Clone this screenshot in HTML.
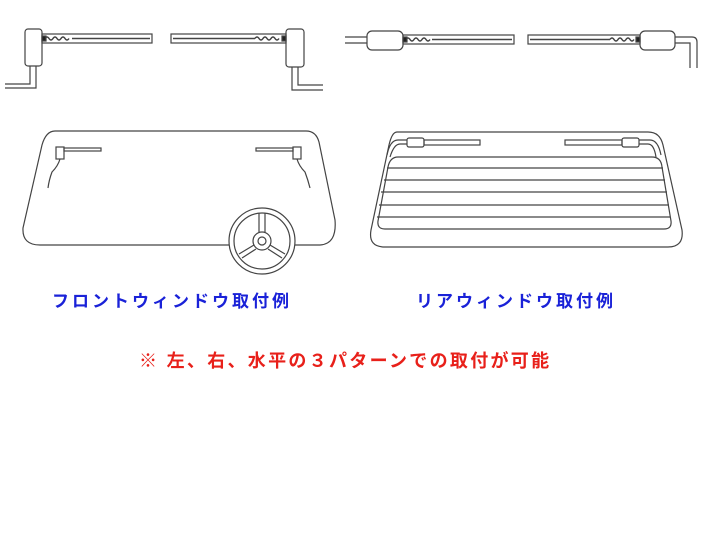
<!DOCTYPE html><html><head><style>body{margin:0;background:#fff;width:720px;height:540px;overflow:hidden}svg{position:absolute;left:0;top:0}.t{font-family:"Liberation Sans","Noto Sans CJK JP",sans-serif;font-weight:bold;white-space:nowrap}</style></head><body>
<svg width="720" height="540" viewBox="0 0 720 540" fill="none" stroke="#444" stroke-width="1.2">
<rect x="25" y="29" width="17" height="37" rx="3"/>
<rect x="42" y="34" width="110" height="9"/><line x1="72" y1="38.5" x2="150" y2="38.5" stroke-width="1.5"/>
<path d="M45 38.5 q2-3 4 0 t4 0 t4 0 t4 0 t4 0 t4 0" stroke-width="1.5"/>
<rect x="42" y="36" width="4" height="5" fill="#222"/>
<path d="M30 66 V84 H5 M36 66 V88 H5"/>
<rect x="171" y="34" width="115" height="9"/><line x1="173" y1="38.5" x2="255" y2="38.5" stroke-width="1.5"/>
<path d="M255 38.5 q2-3 4 0 t4 0 t4 0 t4 0 t4 0 t4 0" stroke-width="1.5"/>
<rect x="282" y="36" width="4" height="5" fill="#222"/>
<rect x="286" y="29" width="18" height="38" rx="3"/>
<path d="M292 67 V90 H323 M298 67 V85 H323"/>
<rect x="367" y="31" width="36" height="19" rx="5"/>
<path d="M345 37 H367 M345 43 H367"/>
<rect x="403" y="35" width="111" height="9"/><line x1="432" y1="39.5" x2="512" y2="39.5" stroke-width="1.5"/>
<path d="M406 39.5 q2-3 4 0 t4 0 t4 0 t4 0 t4 0 t4 0" stroke-width="1.5"/>
<rect x="403" y="37" width="4" height="5" fill="#222"/>
<rect x="528" y="35" width="112" height="9"/><line x1="530" y1="39.5" x2="610" y2="39.5" stroke-width="1.5"/>
<path d="M610 39.5 q2-3 4 0 t4 0 t4 0 t4 0 t4 0 t4 0" stroke-width="1.5"/>
<rect x="636" y="37" width="4" height="5" fill="#222"/>
<rect x="640" y="31" width="35" height="19" rx="5"/>
<path d="M675 37 H692 Q697 37 697 42 V68 M675 43 H690 V68"/>
<path d="M55 131 H306 Q316 131 319 142 L335 220 Q337 244 320 245 H40 Q22 245 23 228 L42 145 Q46 131 55 131 Z"/>
<rect x="56" y="147" width="8" height="12"/><rect x="64" y="148" width="37" height="3"/>
<path d="M60 159 Q58 166 52 172 Q49 180 48 188"/>
<rect x="293" y="147" width="8" height="12"/><rect x="256" y="148" width="37" height="3"/>
<path d="M297 159 Q299 166 305 172 Q308 180 310 188"/>
<circle cx="262" cy="241" r="33" fill="#fff"/><circle cx="262" cy="241" r="28"/>
<circle cx="262" cy="241" r="9"/><circle cx="262" cy="241" r="4"/>
<path d="M259 232 V213 M265 232 V213 M254 245 L239 254 M256 249 L242 258 M270 245 L285 254 M268 249 L282 258"/>
<path d="M397 132 H648 Q660 132 663 145 L682 230 Q684 247 668 247 H385 Q368 247 371 230 L389 145 Q392 132 397 132 Z"/>
<path d="M398 157 H652 Q661 157 662 167 L671 221 Q672 229 664 229 H385 Q377 229 378 221 L388 167 Q390 157 398 157 Z"/>
<path d="M387 168 H663 M384 180 H665 M381 192 H667 M379 205 H669 M377 217 H670"/>
<rect x="407" y="138" width="17" height="9" rx="2"/><rect x="424" y="140" width="56" height="5"/>
<path d="M407 140 H398 Q390 140 387 155 M407 144 H400 Q394 144 390 157"/>
<rect x="622" y="138" width="17" height="9" rx="2"/><rect x="565" y="140" width="57" height="5"/>
<path d="M639 140 H650 Q658 140 661 155 M639 144 H648 Q654 144 656 157"/>
</svg>
<div class="t" style="position:absolute;left:52px;top:287px;font-size:17px;letter-spacing:3px;color:#1a22d8">フロントウィンドウ取付例</div>
<div class="t" style="position:absolute;left:416px;top:287px;font-size:17px;letter-spacing:3px;color:#1a22d8">リアウィンドウ取付例</div>
<div class="t" style="position:absolute;left:139px;top:347px;font-size:18px;letter-spacing:2.3px;color:#e8201a">※ 左、右、水平の３パターンでの取付が可能</div>
</body></html>
